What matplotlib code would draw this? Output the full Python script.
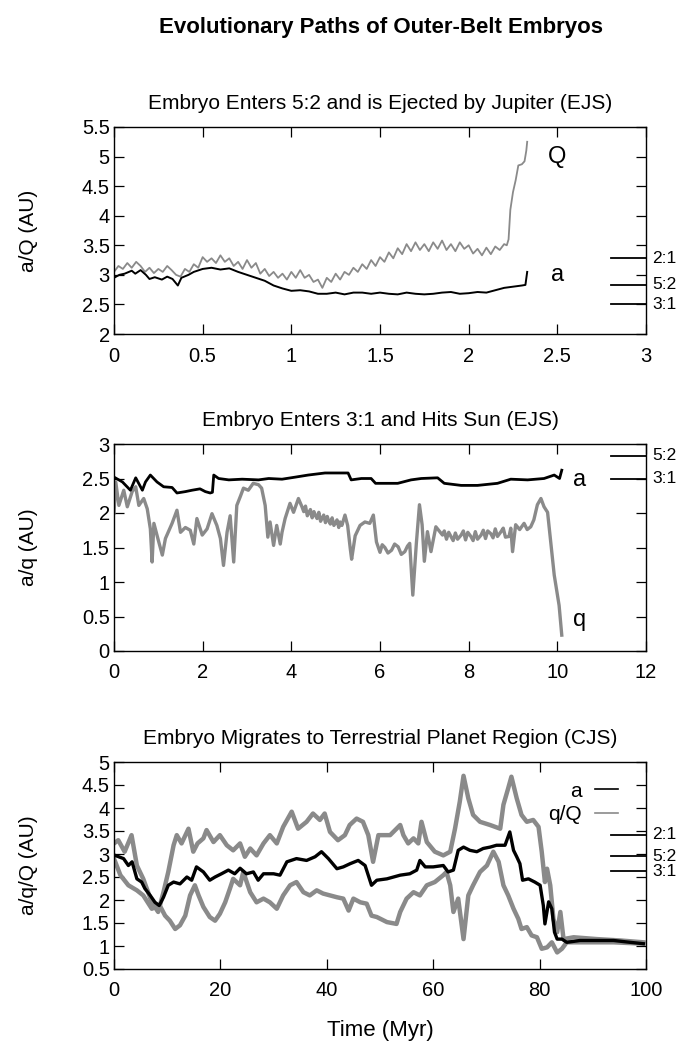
import matplotlib
matplotlib.use("Agg")
import matplotlib.pyplot as plt
from matplotlib.lines import Line2D

plt.rcParams['font.family'] = ['Liberation Sans', 'DejaVu Sans']

GREY = '#8a8a8a'

# ---- panel 1: embryo enters 5:2, ejected (EJS) ----
t1_a = [0.00, 0.03, 0.06, 0.10, 0.12, 0.15, 0.18, 0.20, 0.23, 0.27, 0.30, 0.33, 0.36, 0.38,
        0.42, 0.45, 0.50, 0.55, 0.60, 0.65, 0.70, 0.75, 0.80, 0.85, 0.90, 0.95, 1.00, 1.05,
        1.10, 1.15, 1.20, 1.25, 1.30, 1.35, 1.40, 1.45, 1.50, 1.55, 1.60, 1.65, 1.70, 1.75,
        1.80, 1.85, 1.90, 1.95, 2.00, 2.05, 2.10, 2.15, 2.20, 2.25, 2.30, 2.32, 2.33]
a1 = [2.95, 3.00, 3.02, 3.07, 3.02, 3.08, 3.00, 2.93, 2.96, 2.92, 2.97, 2.93, 2.82, 2.95,
      3.00, 3.05, 3.10, 3.12, 3.09, 3.11, 3.05, 3.00, 2.95, 2.90, 2.82, 2.77, 2.73, 2.74,
      2.72, 2.68, 2.68, 2.70, 2.67, 2.70, 2.70, 2.68, 2.70, 2.68, 2.67, 2.70, 2.68, 2.67,
      2.68, 2.70, 2.71, 2.68, 2.69, 2.71, 2.70, 2.74, 2.78, 2.80, 2.82, 2.83, 3.05]
t1_Q = [0.000, 0.025, 0.050, 0.075, 0.100, 0.125, 0.150, 0.175, 0.200, 0.225, 0.250, 0.275,
        0.300, 0.325, 0.350, 0.375, 0.400, 0.425, 0.450, 0.475, 0.500, 0.525, 0.550, 0.575,
        0.600, 0.625, 0.650, 0.675, 0.700, 0.725, 0.750, 0.775, 0.800, 0.825, 0.850, 0.875,
        0.900, 0.925, 0.950, 0.975, 1.000, 1.025, 1.050, 1.075, 1.100, 1.125, 1.150, 1.175,
        1.200, 1.225, 1.250, 1.275, 1.300, 1.325, 1.350, 1.375, 1.400, 1.425, 1.450, 1.475,
        1.500, 1.525, 1.550, 1.575, 1.600, 1.625, 1.650, 1.675, 1.700, 1.725, 1.750, 1.775,
        1.800, 1.825, 1.850, 1.875, 1.900, 1.925, 1.950, 1.975, 2.000, 2.025, 2.050, 2.075,
        2.100, 2.125, 2.150, 2.175, 2.200, 2.215, 2.225, 2.235, 2.250, 2.265, 2.280, 2.300,
        2.315, 2.325, 2.330]
Q1 = [3.05, 3.15, 3.10, 3.20, 3.12, 3.22, 3.15, 3.05, 3.12, 3.03, 3.10, 3.05,
      3.15, 3.08, 3.00, 2.97, 3.10, 3.05, 3.18, 3.12, 3.30, 3.22, 3.28, 3.20,
      3.33, 3.22, 3.28, 3.15, 3.22, 3.10, 3.25, 3.12, 3.20, 3.02, 3.10, 2.98,
      3.05, 2.95, 3.02, 2.92, 3.05, 2.95, 3.08, 2.95, 3.00, 2.88, 2.92, 2.78,
      2.95, 2.88, 3.02, 2.92, 3.05, 3.00, 3.12, 3.05, 3.18, 3.10, 3.25, 3.15,
      3.30, 3.22, 3.38, 3.28, 3.45, 3.35, 3.52, 3.40, 3.55, 3.42, 3.52, 3.40,
      3.55, 3.44, 3.58, 3.42, 3.52, 3.40, 3.55, 3.44, 3.50, 3.36, 3.44, 3.33,
      3.46, 3.35, 3.48, 3.42, 3.52, 3.50, 3.60, 4.10, 4.40, 4.60, 4.85, 4.87,
      4.92, 5.10, 5.25]

# ---- panel 2: embryo enters 3:1, hits Sun (EJS) ----
t2_a = [0.00, 0.19, 0.37, 0.49, 0.64, 0.71, 0.82, 0.97, 1.12, 1.31, 1.42, 1.61, 1.76, 1.94,
        2.06, 2.17, 2.22, 2.25, 2.36, 2.59, 2.89, 3.26, 3.49, 3.79, 4.09, 4.38, 4.76, 5.13,
        5.28, 5.35, 5.58, 5.80, 5.90, 6.10, 6.40, 6.70, 6.93, 7.30, 7.45, 7.83, 8.20, 8.65,
        8.95, 9.33, 9.70, 9.93, 10.05, 10.10]
a2 = [2.52, 2.45, 2.33, 2.51, 2.33, 2.45, 2.55, 2.45, 2.38, 2.37, 2.29, 2.31, 2.33, 2.35,
      2.31, 2.29, 2.30, 2.55, 2.50, 2.48, 2.49, 2.48, 2.50, 2.49, 2.52, 2.55, 2.58, 2.58,
      2.58, 2.48, 2.50, 2.50, 2.43, 2.43, 2.43, 2.48, 2.50, 2.51, 2.43, 2.40, 2.40, 2.43,
      2.49, 2.48, 2.50, 2.55, 2.50, 2.62]
# (time, q) pairs
q2_pts = [
    (0.00, 2.00), (0.04, 2.45), (0.11, 2.11), (0.22, 2.33), (0.30, 2.09), (0.41, 2.31),
    (0.49, 2.38), (0.56, 2.11), (0.67, 2.21), (0.75, 2.06), (0.82, 1.77), (0.86, 1.29),
    (0.90, 1.85), (1.01, 1.58), (1.09, 1.39), (1.16, 1.63), (1.31, 1.85), (1.42, 2.04),
    (1.50, 1.72), (1.61, 1.79), (1.72, 1.75), (1.80, 1.55), (1.87, 1.92), (1.99, 1.68),
    (2.10, 1.77), (2.21, 1.99), (2.32, 1.82), (2.40, 1.63), (2.47, 1.24), (2.55, 1.72),
    (2.62, 1.96), (2.70, 1.29), (2.77, 2.11), (2.85, 2.24), (2.92, 2.36), (3.03, 2.33),
    (3.14, 2.43), (3.26, 2.41), (3.33, 2.36), (3.41, 2.11), (3.47, 1.65), (3.52, 1.87),
    (3.60, 1.53), (3.67, 1.82), (3.75, 1.55), (3.79, 1.72), (3.86, 1.92), (3.97, 2.14),
    (4.05, 2.01), (4.16, 2.21), (4.24, 2.09), (4.28, 2.02), (4.32, 2.10), (4.36, 1.96),
    (4.39, 1.99), (4.43, 2.05), (4.47, 1.93), (4.51, 2.02), (4.54, 1.97), (4.58, 1.92),
    (4.62, 2.01), (4.66, 1.88), (4.69, 1.92), (4.73, 1.97), (4.77, 1.86), (4.81, 1.95),
    (4.84, 1.89), (4.88, 1.84), (4.92, 1.93), (4.96, 1.82), (4.99, 1.85), (5.03, 1.90),
    (5.07, 1.79), (5.10, 1.87), (5.14, 1.82), (5.21, 1.97), (5.27, 1.82), (5.33, 1.48),
    (5.36, 1.33), (5.44, 1.67), (5.55, 1.82), (5.66, 1.87), (5.77, 1.85), (5.85, 1.97),
    (5.92, 1.58), (6.00, 1.43), (6.05, 1.54), (6.11, 1.50), (6.18, 1.42), (6.26, 1.46),
    (6.33, 1.55), (6.41, 1.51), (6.48, 1.40), (6.56, 1.44), (6.62, 1.52), (6.67, 1.56),
    (6.74, 0.81), (6.82, 1.56), (6.89, 2.12), (6.95, 1.83), (7.00, 1.30), (7.07, 1.73),
    (7.15, 1.44), (7.26, 1.80), (7.41, 1.68), (7.45, 1.74), (7.50, 1.62), (7.55, 1.72),
    (7.60, 1.66), (7.65, 1.60), (7.70, 1.71), (7.75, 1.62), (7.83, 1.68), (7.88, 1.74),
    (7.93, 1.61), (7.98, 1.72), (8.05, 1.66), (8.10, 1.60), (8.15, 1.73), (8.20, 1.62),
    (8.28, 1.68), (8.33, 1.75), (8.38, 1.63), (8.43, 1.74), (8.50, 1.70), (8.55, 1.64),
    (8.60, 1.77), (8.65, 1.66), (8.73, 1.73), (8.78, 1.78), (8.83, 1.65), (8.91, 1.66),
    (8.95, 1.78), (8.99, 1.44), (9.06, 1.83), (9.15, 1.76), (9.25, 1.85), (9.32, 1.76),
    (9.40, 1.80), (9.47, 1.90), (9.55, 2.12), (9.63, 2.21), (9.70, 2.09), (9.78, 2.01),
    (9.85, 1.58), (9.93, 1.10), (9.99, 0.86), (10.04, 0.66), (10.10, 0.23),
]
t2_q = [p[0] for p in q2_pts]
q2 = [p[1] for p in q2_pts]

# ---- panel 3: embryo migrates inward (CJS) ----
t3_a = [0.2, 1.8, 2.7, 3.4, 4.3, 5.2, 5.8, 6.8, 7.7, 8.5, 9.3, 10.2, 11.2, 12.4, 13.7, 14.6,
        15.5, 16.8, 18.0, 19.0, 20.2, 21.5, 22.7, 23.7, 24.9, 26.2, 27.1, 28.1, 30.0, 31.2,
        32.5, 34.3, 36.2, 37.8, 39.0, 40.3, 41.9, 43.1, 44.4, 45.9, 47.2, 48.4, 49.4, 51.3,
        53.8, 55.6, 56.9, 57.5, 58.5, 60.0, 61.9, 62.8, 63.8, 64.7, 65.7, 66.9, 68.2, 69.4,
        70.7, 71.9, 73.5, 74.4, 75.1, 75.7, 76.3, 76.8, 77.9, 79.1, 80.1, 80.7, 81.0, 81.7,
        82.3, 82.8, 83.3, 84.2, 85.1, 87.6, 90.8, 93.9, 97.0, 99.5]
a3 = [2.97, 2.90, 2.75, 2.83, 2.46, 2.39, 2.25, 2.10, 1.95, 1.88, 2.06, 2.32, 2.39, 2.35,
      2.50, 2.43, 2.72, 2.61, 2.43, 2.50, 2.57, 2.65, 2.57, 2.69, 2.57, 2.61, 2.43, 2.57,
      2.57, 2.54, 2.83, 2.90, 2.86, 2.94, 3.05, 2.90, 2.68, 2.72, 2.79, 2.86, 2.75, 2.32,
      2.43, 2.46, 2.54, 2.57, 2.65, 2.86, 2.72, 2.72, 2.75, 2.61, 2.65, 3.08, 3.15, 3.08,
      3.05, 3.12, 3.15, 3.19, 3.19, 3.48, 3.08, 2.94, 2.79, 2.43, 2.46, 2.39, 2.32, 1.88,
      1.48, 1.96, 1.81, 1.30, 1.15, 1.15, 1.08, 1.12, 1.12, 1.12, 1.08, 1.05]
t3_Q = [0.0, 0.8, 2.0, 3.3, 4.3, 5.5, 7.1, 8.3, 9.3, 10.2, 11.2, 11.8, 12.7, 14.0, 14.9, 15.7,
        16.8, 17.4, 18.7, 19.9, 21.2, 22.4, 23.7, 24.6, 25.6, 26.8, 28.1, 29.3, 30.6, 31.8,
        33.4, 34.6, 36.2, 37.4, 38.7, 39.6, 40.6, 42.1, 43.4, 44.3, 45.6, 46.8, 47.8, 48.7,
        49.7, 51.9, 53.8, 54.4, 55.3, 56.3, 57.2, 57.8, 58.8, 60.3, 61.9, 63.2, 64.1, 65.0,
        65.7, 66.6, 67.5, 68.8, 70.7, 72.6, 73.2, 74.1, 74.7, 75.7, 76.6, 77.6, 78.8, 79.8,
        80.4, 81.0, 81.4, 82.0, 82.6, 83.3, 83.9, 84.5, 86.4, 90.8, 95.2, 99.5]
Q3 = [3.23, 3.30, 3.05, 3.41, 2.75, 2.46, 1.95, 1.74, 2.17, 2.61, 3.19, 3.41, 3.23, 3.55,
      3.05, 3.23, 3.34, 3.52, 3.26, 3.41, 3.19, 3.08, 3.23, 2.94, 3.12, 2.97, 3.23, 3.41,
      3.23, 3.59, 3.92, 3.55, 3.70, 3.88, 3.74, 3.88, 3.48, 3.30, 3.41, 3.63, 3.77, 3.70,
      3.41, 2.83, 3.41, 3.41, 3.63, 3.41, 3.23, 3.34, 3.23, 3.70, 3.26, 3.05, 2.97, 3.05,
      3.55, 4.14, 4.70, 4.21, 3.85, 3.70, 3.63, 3.55, 4.07, 4.43, 4.68, 4.21, 3.85, 3.70,
      3.74, 3.59, 3.05, 2.39, 2.68, 2.32, 1.59, 1.30, 1.74, 1.15, 1.19, 1.15, 1.12, 1.08]
t3_q = [0.0, 1.2, 2.7, 4.3, 5.5, 7.1, 8.6, 9.6, 10.5, 11.5, 12.4, 13.4, 14.3, 15.2, 15.9,
        16.8, 18.0, 19.0, 19.9, 20.9, 21.8, 22.4, 23.7, 24.3, 25.6, 26.8, 28.1, 29.3, 30.6,
        31.8, 33.1, 34.3, 35.6, 36.8, 38.1, 39.3, 40.6, 41.9, 43.1, 44.1, 45.0, 46.3, 47.5,
        48.4, 49.4, 51.3, 53.1, 53.8, 55.0, 56.3, 57.5, 58.8, 60.3, 61.9, 62.5, 63.2, 63.8,
        64.7, 65.7, 66.6, 67.5, 68.8, 70.1, 71.3, 72.3, 73.2, 74.1, 75.1, 76.0, 76.6, 77.6,
        78.5, 79.5, 80.4, 81.4, 82.3, 83.3, 84.2, 85.1, 87.6, 93.9, 99.5]
q3 = [2.90, 2.54, 2.32, 2.21, 2.10, 1.81, 1.88, 1.66, 1.55, 1.37, 1.45, 1.66, 2.10, 2.32,
      2.10, 1.85, 1.63, 1.55, 1.70, 1.95, 2.25, 2.46, 2.32, 2.61, 2.17, 1.95, 2.03, 1.95,
      1.81, 2.10, 2.32, 2.39, 2.17, 2.10, 2.21, 2.14, 2.10, 2.06, 2.03, 1.77, 2.03, 1.95,
      1.92, 1.66, 1.63, 1.52, 1.48, 1.74, 2.03, 2.17, 2.10, 2.32, 2.39, 2.54, 2.61, 2.32,
      1.74, 2.03, 1.15, 2.10, 2.32, 2.61, 2.75, 3.05, 2.83, 2.32, 2.10, 1.81, 1.59, 1.37,
      1.41, 1.23, 1.19, 0.94, 0.97, 1.08, 0.86, 0.94, 1.08, 1.08, 1.08, 1.05]

# resonance locations (AU) shown on the right edge
res_ejs = {'2:1': 3.28, '5:2': 2.83, '3:1': 2.50}
res_ejs2 = {'5:2': 2.83, '3:1': 2.50}
res_cjs = {'2:1': 3.42, '5:2': 2.95, '3:1': 2.62}

W, H = 692, 1049
fig = plt.figure(figsize=(W / 100, H / 100), dpi=100)


def make_axes(top_px, height_px=207):
    return fig.add_axes([114 / W, 1 - (top_px + height_px) / H, 532 / W, height_px / H])


def style(ax, xlim, ylim, xticks, yticks, res):
    ax.set_xlim(*xlim)
    ax.set_ylim(*ylim)
    ax.set_xticks(xticks)
    ax.set_yticks(yticks)
    ax.set_xticklabels([f'{v:g}' for v in xticks])
    ax.set_yticklabels([f'{v:g}' for v in yticks])
    ax.tick_params(direction='in', top=True, right=True, length=7, width=0.9, labelsize=14.5)
    ax.tick_params(axis='x', pad=9)
    ax.tick_params(axis='y', pad=3)
    for sp in ax.spines.values():
        sp.set_linewidth(1.0)
    tr = ax.get_yaxis_transform()
    for name, val in res.items():
        ax.plot([0.935, 1.0], [val, val], transform=tr, color='k', lw=1.3, clip_on=False)
        ax.text(1.012, val, name, transform=tr, ha='left', va='center', fontsize=12.5)
    ax.yaxis.set_label_coords(-0.143, 0.5)


fig.text(0.55, 1 - 28 / H, 'Evolutionary Paths of Outer-Belt Embryos', ha='center',
         va='center', fontsize=16, fontweight='bold')

# panel 1
ax1 = make_axes(127)
ax1.plot(t1_Q, Q1, color=GREY, lw=1.3)
ax1.plot(t1_a, a1, color='k', lw=1.4)
style(ax1, (0, 3), (2, 5.5), [0, 0.5, 1, 1.5, 2, 2.5, 3], [2, 2.5, 3, 3.5, 4, 4.5, 5, 5.5], res_ejs)
ax1.set_title('Embryo Enters 5:2 and is Ejected by Jupiter (EJS)', fontsize=15, pad=13)
ax1.set_ylabel('a/Q (AU)', fontsize=15)
ax1.text(2.5, 5.0, 'Q', fontsize=17, ha='center', va='center')
ax1.text(2.5, 3.0, 'a', fontsize=17, ha='center', va='center')

# panel 2
ax2 = make_axes(444)
ax2.plot(t2_q, q2, color=GREY, lw=2.4)
ax2.plot(t2_a, a2, color='k', lw=2.0)
style(ax2, (0, 12), (0, 3), [0, 2, 4, 6, 8, 10, 12], [0, 0.5, 1, 1.5, 2, 2.5, 3], res_ejs2)
ax2.set_title('Embryo Enters 3:1 and Hits Sun (EJS)', fontsize=15, pad=13)
ax2.set_ylabel('a/q (AU)', fontsize=15)
ax2.text(10.5, 2.48, 'a', fontsize=17, ha='center', va='center')
ax2.text(10.5, 0.45, 'q', fontsize=17, ha='center', va='center')

# panel 3
ax3 = make_axes(762)
ax3.plot(t3_Q, Q3, color=GREY, lw=3.2)
ax3.plot(t3_q, q3, color=GREY, lw=3.2)
ax3.plot(t3_a, a3, color='k', lw=2.4)
style(ax3, (0, 100), (0.5, 5), [0, 20, 40, 60, 80, 100],
      [0.5, 1, 1.5, 2, 2.5, 3, 3.5, 4, 4.5, 5], res_cjs)
ax3.set_title('Embryo Migrates to Terrestrial Planet Region (CJS)', fontsize=15, pad=13)
ax3.set_ylabel('a/q/Q (AU)', fontsize=15)
ax3.set_xlabel('Time (Myr)', fontsize=16, labelpad=14)
handles = [Line2D([], [], color='k', lw=1.2), Line2D([], [], color=GREY, lw=1.2)]
ax3.legend(handles, ['a', 'q/Q'], loc='upper right', bbox_to_anchor=(0.97, 0.965),
           frameon=False, markerfirst=False, fontsize=15, handlelength=1.1,
           handletextpad=0.6, labelspacing=0.2, borderaxespad=0.2)

fig.savefig('out.png', dpi=100)
